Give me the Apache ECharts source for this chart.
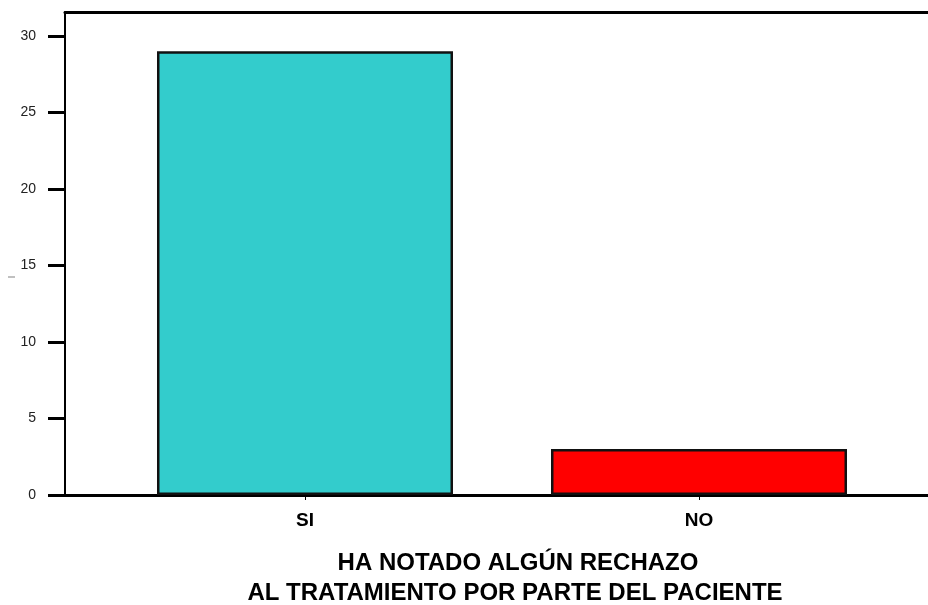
<!DOCTYPE html>
<html>
<head>
<meta charset="utf-8">
<script src="https://cdn.jsdelivr.net/npm/echarts@6/dist/echarts.min.js"></script>
<style>
  html, body { margin: 0; padding: 0; background: #fff; }
  #chart { width: 928px; height: 605px; }
</style>
</head>
<body>
<div id="chart"></div>
<script>
// Responses to the question, counts per answer
const categories = ['SI', 'NO'];
const counts = [29, 3];
const barColors = ['#33CCCC', '#FF0000'];
const yTicks = [0, 5, 10, 15, 20, 25, 30];
const yMax = 31.57;
const titleLines = ['HA NOTADO ALGÚN RECHAZO', 'AL TRATAMIENTO POR PARTE DEL PACIENTE'];

const font = 'Liberation Sans, Arial, sans-serif';

const chart = echarts.init(document.getElementById('chart'), null, { renderer: 'canvas' });

chart.setOption({
  animation: false,
  backgroundColor: '#fff',
  grid: [
    // frame: left axis, bottom and top lines
    { left: 65, right: -3, top: 12, bottom: 110 },
    // bars
    { left: 108, right: 32, top: 12, bottom: 110 }
  ],
  xAxis: [
    {
      gridIndex: 0, type: 'value', min: 0, max: 1, position: 'bottom',
      axisLine: { show: true, lineStyle: { color: '#000', width: 3 } },
      axisTick: { show: false }, axisLabel: { show: false }, splitLine: { show: false }
    },
    {
      gridIndex: 0, type: 'value', min: 0, max: 1, position: 'top',
      axisLine: { show: true, lineStyle: { color: '#000', width: 3 } },
      axisTick: { show: false }, axisLabel: { show: false }, splitLine: { show: false }
    },
    {
      gridIndex: 1, type: 'category', data: categories, position: 'bottom',
      axisLine: { show: false },
      axisTick: { show: true, alignWithLabel: true, length: 5, lineStyle: { color: '#000', width: 1 } },
      axisLabel: { margin: 16, color: '#000', fontFamily: font, fontWeight: 'bold', fontSize: 19 },
      splitLine: { show: false }
    }
  ],
  yAxis: [
    {
      gridIndex: 0, type: 'value', min: 0, max: yMax, interval: 5,
      axisLine: { show: true, lineStyle: { color: '#000', width: 2 } },
      axisTick: { show: true, length: 17, customValues: yTicks, lineStyle: { color: '#000', width: 3 } },
      axisLabel: { margin: 29, customValues: yTicks, color: '#222', fontFamily: font, fontSize: 14 },
      splitLine: { show: false }
    },
    {
      gridIndex: 1, type: 'value', min: 0, max: yMax, show: false, splitLine: { show: false }
    }
  ],
  graphic: [
    {
      type: 'text', x: 13, y: 277, rotation: Math.PI / 2,
      style: { text: 'l', fill: '#666', font: '9px ' + font, textAlign: 'center', textVerticalAlign: 'middle' }
    },
    {
      type: 'text', x: 518, y: 563,
      style: { text: titleLines[0], fill: '#000', font: 'bold 24px ' + font, textAlign: 'center', textVerticalAlign: 'middle' }
    },
    {
      type: 'text', x: 515, y: 593,
      style: { text: titleLines[1], fill: '#000', font: 'bold 24px ' + font, textAlign: 'center', textVerticalAlign: 'middle' }
    }
  ],
  series: [
    {
      type: 'bar', xAxisIndex: 2, yAxisIndex: 1,
      barWidth: 296,
      data: counts.map((v, i) => ({
        value: v,
        itemStyle: { color: barColors[i], borderColor: '#111', borderWidth: 2.5 }
      }))
    }
  ]
});
</script>
</body>
</html>
